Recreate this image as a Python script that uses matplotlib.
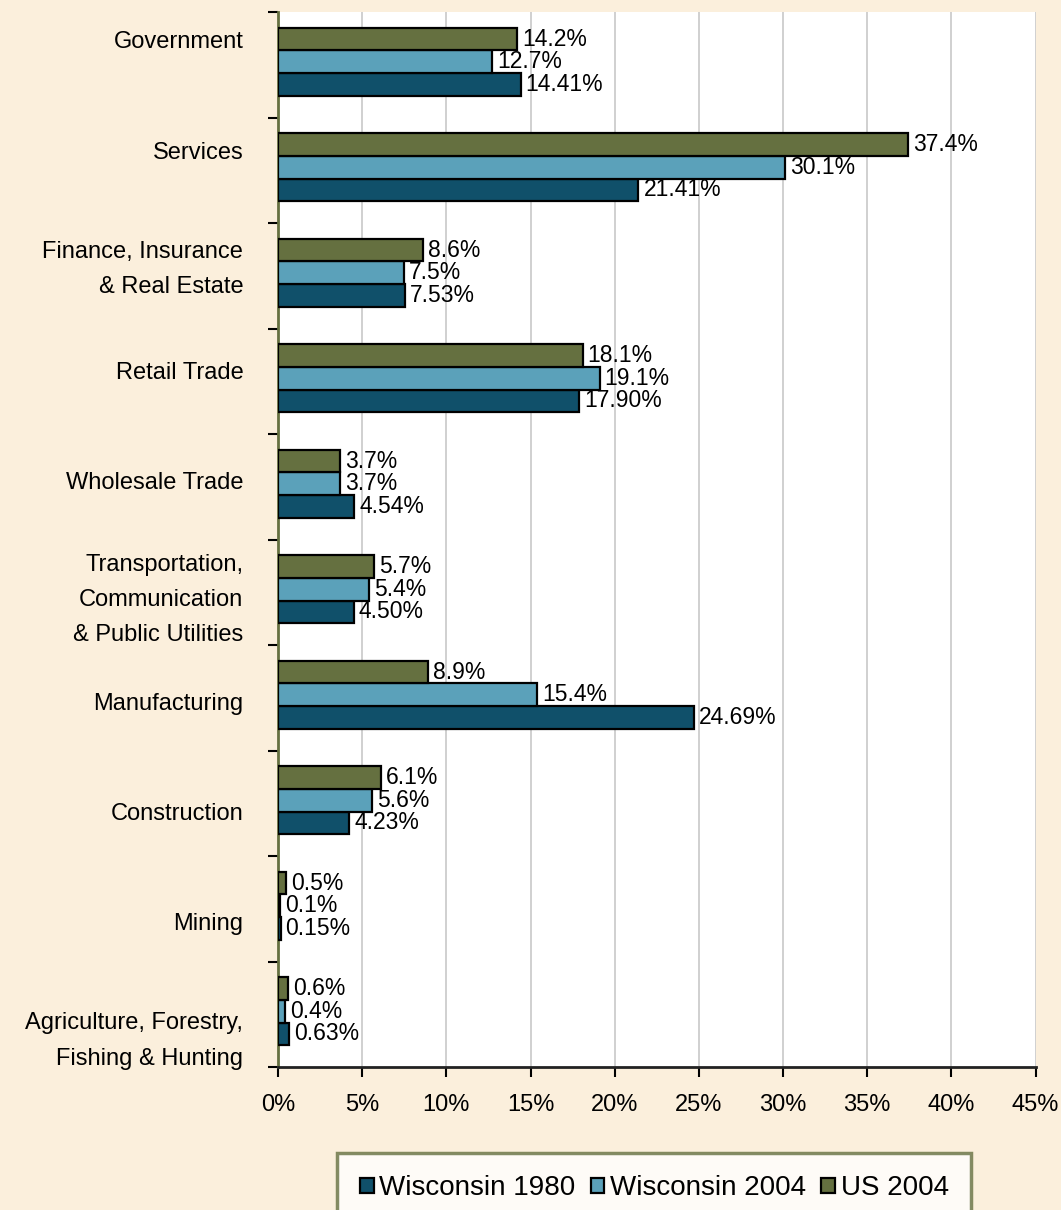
import numpy as np
import matplotlib.pyplot as plt
from matplotlib.ticker import FixedLocator, PercentFormatter

plt.rcParams['font.family'] = ['Liberation Sans', 'DejaVu Sans']

# categories listed bottom -> top
categories = ["Agriculture, Forestry,\nFishing & Hunting", "Mining", "Construction",
              "Manufacturing", "Transportation,\nCommunication\n& Public Utilities",
              "Wholesale Trade", "Retail Trade", "Finance, Insurance\n& Real Estate",
              "Services", "Government"]
wi_1980 = [0.63, 0.15, 4.23, 24.69, 4.50, 4.54, 17.90, 7.53, 21.41, 14.41]
wi_2004 = [0.4, 0.1, 5.6, 15.4, 5.4, 3.7, 19.1, 7.5, 30.1, 12.7]
us_2004 = [0.6, 0.5, 6.1, 8.9, 5.7, 3.7, 18.1, 8.6, 37.4, 14.2]
labels_1980 = ["0.63%", "0.15%", "4.23%", "24.69%", "4.50%", "4.54%", "17.90%", "7.53%", "21.41%", "14.41%"]

series = [("Wisconsin 1980", wi_1980, "#10506a", labels_1980),
          ("Wisconsin 2004", wi_2004, "#5ba1ba", [f"{v:.1f}%" for v in wi_2004]),
          ("US 2004", us_2004, "#657040", [f"{v:.1f}%" for v in us_2004])]

bg = "#fbefdc"
fig = plt.figure(figsize=(10.61, 12.10), dpi=100, facecolor=bg)
ax = fig.add_axes([0.262, 0.118, 0.714, 0.872])
ax.set_facecolor("white")

y = np.arange(len(categories))
h = 0.215
for i, (name, vals, col, labs) in enumerate(series):
    pos = y + (i - 1) * h + 0.03
    bars = ax.barh(pos, vals, height=h, color=col, edgecolor="black", linewidth=1.6,
                   label=name, zorder=3)
    for b, lab in zip(bars, labs):
        ax.text(b.get_width() + 0.3, b.get_y() + b.get_height() / 2, lab,
                va="center", ha="left", fontsize=16.5, color="black", zorder=4)

ax.set_xlim(0, 45)
ax.set_ylim(-0.5, len(categories) - 0.5)
ax.set_xticks(np.arange(0, 46, 5))
ax.xaxis.set_major_formatter(PercentFormatter(decimals=0))
ax.grid(axis="x", color="#c8c8c8", linewidth=1.2, zorder=0)

# category labels sit on a slightly wider pitch than the bar groups
label_pos = y + np.linspace(-0.166, 0.237, len(categories))
ax.yaxis.set_major_locator(FixedLocator(np.arange(-0.5, len(categories), 1.0)))
ax.yaxis.set_minor_locator(FixedLocator(label_pos))
ax.set_yticklabels([], minor=False)
ax.set_yticklabels(categories, minor=True, fontsize=17, linespacing=1.78)
ax.tick_params(axis="y", which="minor", length=0, pad=25)
ax.tick_params(axis="y", which="major", length=7, width=1.5, direction="out")
ax.tick_params(axis="x", length=7, width=1.5, labelsize=17, pad=12)

for s in ["top", "right"]:
    ax.spines[s].set_visible(False)
ax.spines["left"].set_color("#657040")
ax.spines["left"].set_linewidth(2)
ax.spines["bottom"].set_color("#222222")
ax.spines["bottom"].set_linewidth(2)

handles, lbls = ax.get_legend_handles_labels()
leg = fig.legend(handles, lbls, loc="upper left", bbox_to_anchor=(0.318, 0.047),
                 ncol=3, fontsize=20, frameon=True, fancybox=False,
                 handlelength=0.5, handleheight=0.5, handletextpad=0.2,
                 columnspacing=0.55, borderpad=0.8, borderaxespad=0)
leg.get_frame().set_edgecolor("#657040")
leg.get_frame().set_linewidth(2.5)

fig.savefig("out.png", dpi=100, facecolor=bg)
